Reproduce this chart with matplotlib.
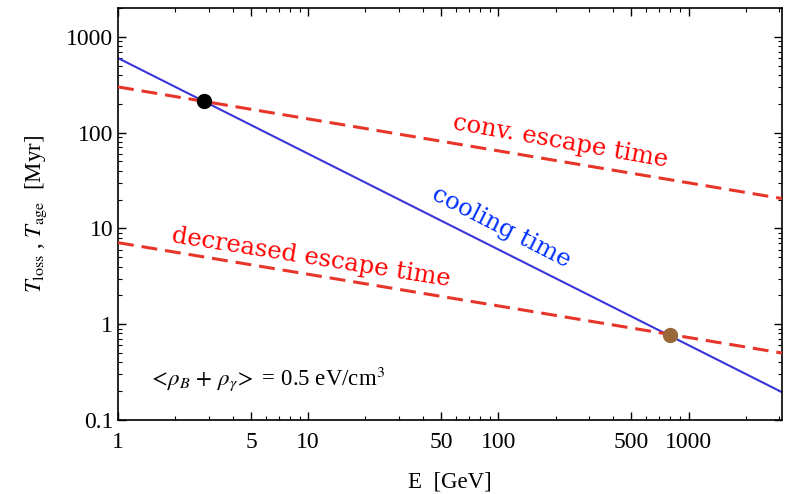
import matplotlib
matplotlib.use("Agg")
import matplotlib.pyplot as plt
from matplotlib.ticker import FixedLocator, NullFormatter, LogLocator

# Data (straight lines in log-log space: endpoints)
E_line = [1, 3100]
cooling_time = [600, 0.195]
conv_escape = [300, 20.5]
decreased_escape = [7.1, 0.5]
cross_E = [2.83, 800]
cross_T = [212, 0.77]
cross_colors = ["black", "#9a6838"]

x_ticks = [1, 5, 10, 50, 100, 500, 1000]
x_ticklabels = ["1", "5", "10", "50", "100", "500", "1000"]
y_ticks = [0.1, 1, 10, 100, 1000]
y_ticklabels = ["0.1", "1", "10", "100", "1000"]

plt.rcParams["font.family"] = ["Liberation Serif", "DejaVu Serif"]
plt.rcParams["mathtext.fontset"] = "stix"

fig = plt.figure(figsize=(7.9, 4.94), dpi=100)
ax = fig.add_axes([0.1494, 0.1498, 0.9899 - 0.1494, 0.9838 - 0.1498])
ax.set_xscale("log")
ax.set_yscale("log")
ax.set_xlim(1, 3100)
ax.set_ylim(0.1, 2000)

ax.plot(E_line, cooling_time, color="#3a35d8", lw=1.5, zorder=2)
ax.plot(E_line, conv_escape, color="#e8352a", lw=2.2, dashes=(5.2, 2.6), zorder=3)
ax.plot(E_line, decreased_escape, color="#e8352a", lw=2.2, dashes=(5.2, 2.6), zorder=3)
for e, t, c in zip(cross_E, cross_T, cross_colors):
    ax.plot([e], [t], "o", color=c, markersize=10, zorder=4)

lab_font = ["DejaVu Serif"]
ax.text(212, 80, "conv. escape time", color="#ff0000", fontsize=17.5, rotation=-10,
        ha="center", va="center", family=lab_font, rotation_mode="anchor")
ax.text(103, 10.3, "cooling time", color="#0030ff", fontsize=17.5, rotation=-27,
        ha="center", va="center", family=lab_font, rotation_mode="anchor")
ax.text(10.4, 5.0, "decreased escape time", color="#ff0000", fontsize=17.5, rotation=-9,
        ha="center", va="center", family=lab_font, rotation_mode="anchor")
ax.text(1.44, 0.27, r"$<\!\rho_B\,+\,\rho_\gamma\!>$ = 0.5 eV/cm$^3$", fontsize=16.5,
        ha="left", va="center")

ax.xaxis.set_major_locator(FixedLocator(x_ticks))
ax.set_xticklabels(x_ticklabels)
ax.xaxis.set_minor_locator(LogLocator(base=10, subs=(2, 3, 4, 6, 7, 8, 9), numticks=20))
ax.xaxis.set_minor_formatter(NullFormatter())
ax.yaxis.set_major_locator(FixedLocator(y_ticks))
ax.set_yticklabels(y_ticklabels)
ax.yaxis.set_minor_locator(LogLocator(base=10, subs=(2, 3, 4, 5, 6, 7, 8, 9), numticks=20))
ax.yaxis.set_minor_formatter(NullFormatter())

ax.tick_params(which="both", direction="in", top=True, right=True, labelsize=17)
ax.tick_params(which="major", length=6, width=1)
ax.tick_params(which="minor", length=3, width=0.8)
ax.tick_params(axis="x", pad=9)
for s in ax.spines.values():
    s.set_linewidth(1.2)

ax.set_xlabel("E  [GeV]", fontsize=16.5, labelpad=13)
ax.set_ylabel(r"$T_{\rm loss}$ , $T_{\rm age}$  [Myr]", fontsize=16.5, labelpad=12)

fig.savefig("out.png", dpi=100)
